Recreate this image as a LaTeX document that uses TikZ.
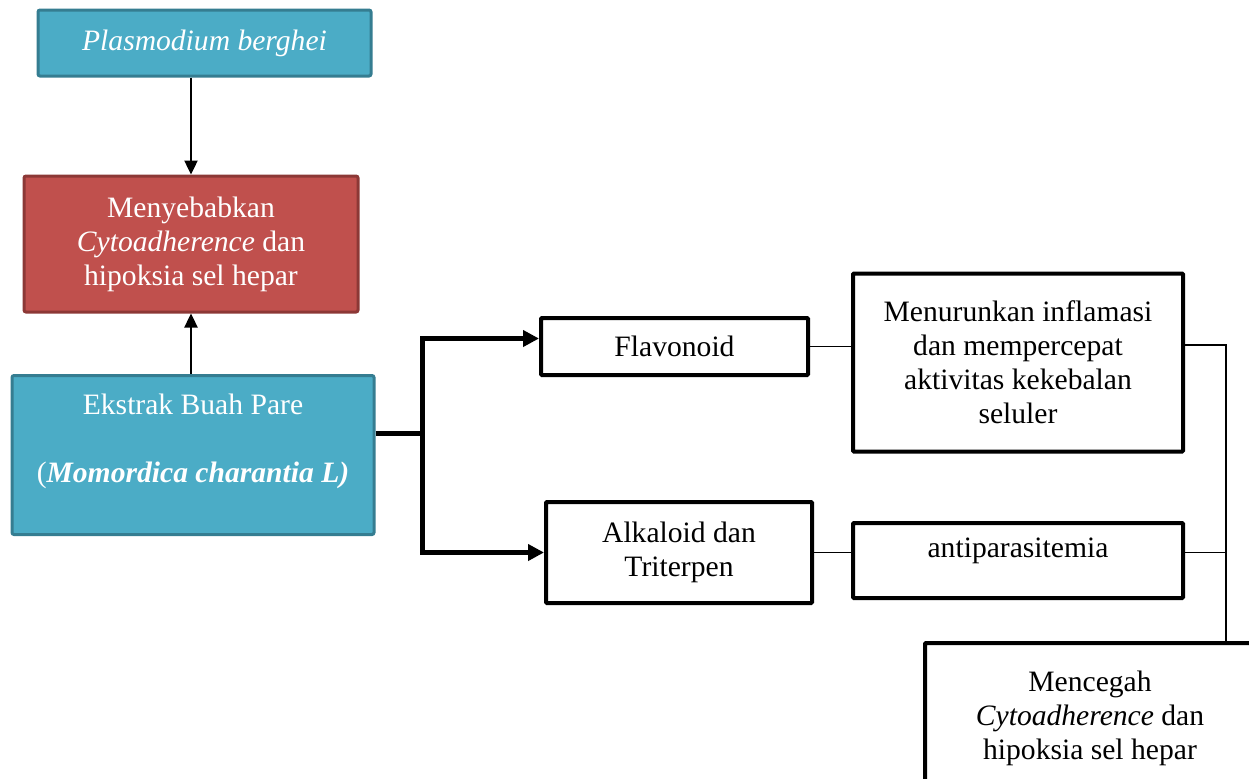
\documentclass[tikz,border=0pt]{standalone}
\usepackage{fontspec}
\setmainfont{Liberation Serif}
\usetikzlibrary{arrows.meta}
\definecolor{aqua}{HTML}{4BACC6}
\definecolor{aquadark}{HTML}{357D91}
\definecolor{brick}{HTML}{C0504D}
\definecolor{brickdark}{HTML}{8C3836}

\begin{document}
\begin{tikzpicture}[x=0.5pt,y=-0.5pt,>={Triangle[length=7pt,width=6.5pt]},
        every node/.style={font=\fontsize{14.8}{17}\selectfont,align=center,inner sep=2pt},
        tealbox/.style={draw=aquadark,fill=aqua,line width=1.5pt,text=white,rounded corners=1pt},
        redbox/.style={draw=brickdark,fill=brick,line width=1.5pt,text=white,rounded corners=1pt},
        whitebox/.style={draw=black,line width=2pt,rounded corners=0.5pt},
        fat/.style={line width=2.5pt,>={Triangle[length=8pt,width=8pt]}},
        slim/.style={line width=0.7pt}]
                \useasboundingbox (0,0) rectangle (1249,778);
                \clip (0,0) rectangle (1249,778);
                \node[tealbox,minimum width=166.5pt,minimum height=33pt] (plasm) at (204.5,43) {\itshape Plasmodium berghei};
                \node[redbox,minimum width=167pt,minimum height=68pt] (hepar) at (191,244) {Menyebabkan\\ \textit{Cytoadherence} dan\\ hipoksia sel hepar};
                \node[tealbox,minimum width=181pt,minimum height=79.5pt] (ekstrak) at (193,455) {Ekstrak Buah Pare\\ \mbox{}\\ (\textbf{\textit{Momordica charantia L)}}\\ \mbox{}};
                \node[whitebox,minimum width=133.5pt,minimum height=28.5pt] (flav) at (674.5,346.5) {Flavonoid};
                \node[whitebox,minimum width=133pt,minimum height=50.5pt] (alk) at (679,552.5) {Alkaloid dan\\ Triterpen};
                \node[whitebox,minimum width=165pt,minimum height=89pt] (inflam) at (1018,362.5) {Menurunkan inflamasi\\ dan mempercepat\\ aktivitas kekebalan\\ seluler};
                \node[whitebox,minimum width=165pt,minimum height=37.5pt,text depth=13pt] (antip) at (1018,560.5) {antiparasitemia};
                \node[whitebox,minimum width=165pt,minimum height=75pt] (cegah) at (1090,718) {Mencegah\\ \textit{Cytoadherence} dan\\ hipoksia sel hepar};
                % arrows on the left
                \draw[->,line width=1.2pt] (plasm.south -| hepar.north) -- (hepar.north);
                \draw[->,line width=1.2pt] (hepar.south |- ekstrak.north) -- (hepar.south);
                \coordinate (fork) at (422,433);
                \draw[fat] (ekstrak.east |- fork) -- (fork);
                \draw[fat,<->] ([yshift=4pt]flav.west) -| (fork) |- (alk.west);
                % thin joins
                \draw[slim] (flav.east) -- (inflam.west |- flav.east);
                \draw[slim] (alk.east) -- (antip.west |- alk.east);
                \coordinate (merge) at (1226,345);
                \draw[slim] (inflam.east |- merge) -- (merge) -- (merge |- cegah.north);
                \draw[slim] (antip.east |- alk.east) -- (merge |- alk.east);
            \end{tikzpicture}
\end{document}
